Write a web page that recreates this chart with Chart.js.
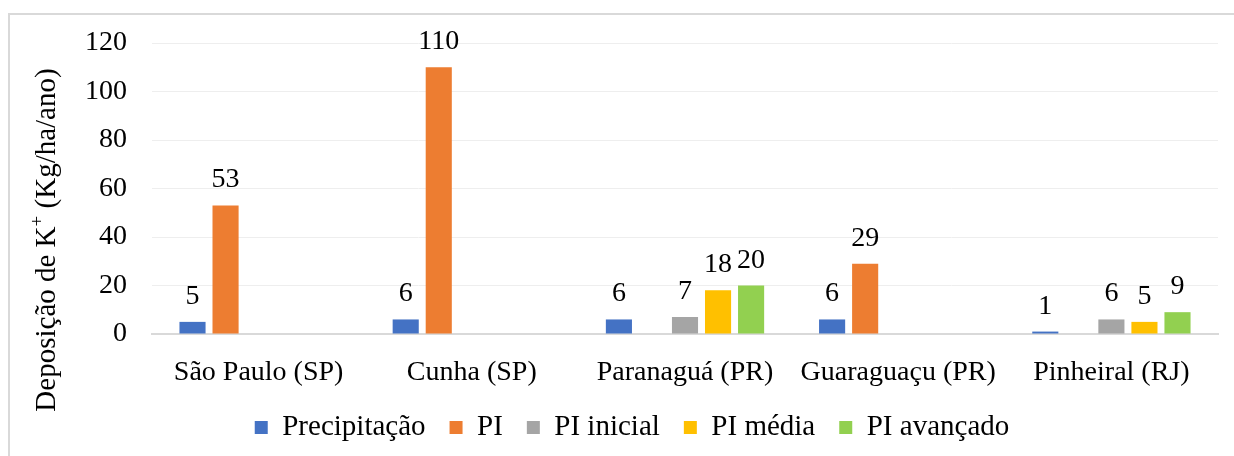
<!DOCTYPE html>
<html lang="pt-br">
<head>
    <meta charset="UTF-8">
    <title>Deposição de K+</title>
    <style>
        body { margin: 0; background: #fff; }
        .moldura { position: relative; width: 1234px; height: 456px; overflow: hidden; }
        .borda { position: absolute; left: 8px; top: 13px; width: 1240px; height: 460px; border: 2px solid #d9d9d9; }
        canvas { position: absolute; left: 0; top: 0; }
    </style>
</head>
<body>
    <div class="moldura">
        <div class="borda"></div>
        <canvas id="grafico" width="1234" height="456"></canvas>
    </div>

<script src="https://cdn.jsdelivr.net/npm/chart.js"></script>
<script>
    // dados
    var locais = ['São Paulo (SP)', 'Cunha (SP)', 'Paranaguá (PR)', 'Guaraguaçu (PR)', 'Pinheiral (RJ)'];
    var precipitacao = [5, 6, 6, 6, 1];
    var pi = [53, 110, null, 29, null];
    var piInicial = [null, null, 7, null, 6];
    var piMedia = [null, null, 18, null, 5];
    var piAvancado = [null, null, 20, null, 9];
    var ticksY = [0, 20, 40, 60, 80, 100, 120];

    var fonte = 'Liberation Serif, Times New Roman, serif';

    // rótulos de valor acima das barras
    const rotulosBarras = {
        id: 'rotulosBarras',
        afterDatasetsDraw(chart) {
            const ctx = chart.ctx;
            ctx.save();
            ctx.font = '28px ' + fonte;
            ctx.fillStyle = '#000';
            ctx.textAlign = 'center';
            ctx.textBaseline = 'alphabetic';
            chart.data.datasets.forEach((ds, i) => {
                chart.getDatasetMeta(i).data.forEach((barra, j) => {
                    if (ds.data[j] == null) return;
                    ctx.fillText(ds.data[j], barra.x, barra.y - 18);
                });
            });
            ctx.restore();
        }
    };

    // título do eixo Y com o "+" sobrescrito
    const tituloEixo = {
        id: 'tituloEixo',
        afterDraw(chart) {
            const ctx = chart.ctx;
            const p1 = 'Deposição de K', sup = '+', p2 = ' (Kg/ha/ano)';
            ctx.save();
            ctx.translate(47, 240);
            ctx.rotate(-Math.PI / 2);
            ctx.fillStyle = '#000';
            ctx.textBaseline = 'middle';
            ctx.textAlign = 'left';
            ctx.font = '29px ' + fonte;
            const w1 = ctx.measureText(p1).width, w3 = ctx.measureText(p2).width;
            ctx.font = '19px ' + fonte;
            const w2 = ctx.measureText(sup).width;
            let x = -(w1 + w2 + w3) / 2;
            ctx.font = '29px ' + fonte;
            ctx.fillText(p1, x, 0);
            x += w1;
            ctx.font = '19px ' + fonte;
            ctx.fillText(sup, x, -9);
            x += w2;
            ctx.font = '29px ' + fonte;
            ctx.fillText(p2, x, 0);
            ctx.restore();
        }
    };

    function serie(nome, dados, cor) {
        return {
            label: nome,
            data: dados,
            backgroundColor: cor,
            borderWidth: 0,
            categoryPercentage: 0.775,
            barPercentage: 0.79
        };
    }

    new Chart(document.getElementById('grafico'), {
        type: 'bar',
        data: {
            labels: locais,
            datasets: [
                serie('Precipitação', precipitacao, '#4472C4'),
                serie('PI', pi, '#ED7D31'),
                serie('PI inicial', piInicial, '#A5A5A5'),
                serie('PI média', piMedia, '#FFC000'),
                serie('PI avançado', piAvancado, '#92D050')
            ]
        },
        options: {
            responsive: false,
            animation: false,
            layout: { padding: { left: 46, right: 16, top: 43, bottom: 4 } },
            scales: {
                x: {
                    grid: { display: false, drawTicks: false },
                    border: { display: true, color: '#d9d9d9', width: 2 },
                    ticks: { color: '#000', font: { family: fonte, size: 28 }, padding: 22, maxRotation: 0 },
                    afterFit(scale) { scale.height = 55; }
                },
                y: {
                    min: 0,
                    max: 120,
                    afterBuildTicks(scale) { scale.ticks = ticksY.map(v => ({ value: v })); },
                    grid: {
                        color: c => c.tick.value === 0 ? 'rgba(0,0,0,0)' : '#eeeeee',
                        lineWidth: 1,
                        drawTicks: false
                    },
                    border: { display: false },
                    ticks: { color: '#000', font: { family: fonte, size: 28 }, padding: 25 },
                    afterFit(scale) { scale.width = 106; }
                }
            },
            plugins: {
                legend: {
                    position: 'bottom',
                    labels: {
                        color: '#000',
                        font: { family: fonte, size: 29 },
                        boxWidth: 13,
                        boxHeight: 13,
                        padding: 24
                    }
                },
                tooltip: { enabled: false }
            }
        },
        plugins: [rotulosBarras, tituloEixo]
    });
</script>
</body>
</html>
